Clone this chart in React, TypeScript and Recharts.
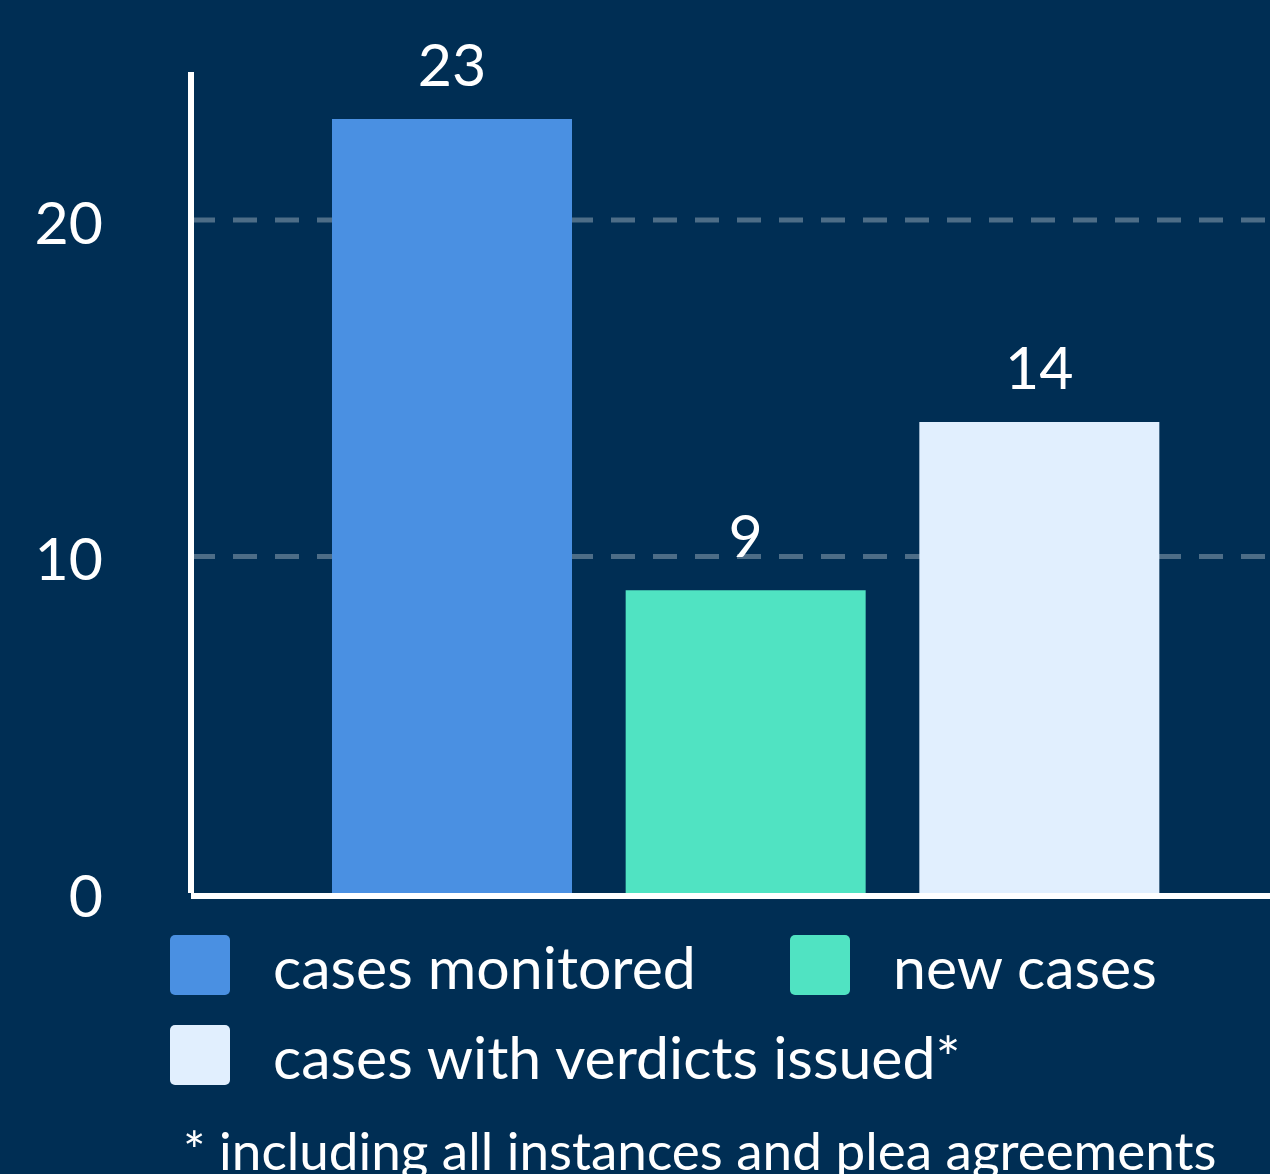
import { Bar, BarChart, CartesianGrid, Cell, LabelList, XAxis, YAxis } from 'recharts';

const categories = ['cases monitored', 'new cases', 'cases with verdicts issued*'];
const values = [23, 9, 14];
const yTicks = [0, 10, 20];
const gridValues = [10, 20];
const footnote = '* including all instances and plea agreements';

const COLORS = ['#4A90E2', '#50E3C2', '#E1EFFE'];
const BG = '#002e54';
const FONT = 'Lato, "Noto Sans", sans-serif';

const data = categories.map((name, i) => ({ name, value: values[i] }));

// legend spots: square left/top, text left
const legendSpots = [
    { left: 170, top: 935, textLeft: 273 },
    { left: 790, top: 935, textLeft: 893 },
    { left: 170, top: 1025, textLeft: 273 },
];

export default function App() {
    return (
        <div
            style={{
                position: 'absolute',
                left: 0,
                top: 0,
                width: 1270,
                height: 1174,
                background: BG,
                overflow: 'hidden',
                fontFamily: FONT,
            }}
        >
            <BarChart width={1270} height={1174} data={data} margin={{ top: 72, right: 0, left: 0, bottom: 0 }}>
                <CartesianGrid
                    vertical={false}
                    horizontalValues={gridValues}
                    stroke='rgba(255,255,255,0.3)'
                    strokeWidth={5}
                    strokeDasharray='24 18'
                />
                <XAxis
                    dataKey='name'
                    tick={false}
                    tickLine={false}
                    height={281}
                    padding={{ left: 114, right: 84 }}
                    axisLine={{ stroke: '#ffffff', strokeWidth: 6, transform: 'translate(0, 3)' }}
                />
                <YAxis
                    width={191}
                    domain={[0, 24.4]}
                    ticks={yTicks}
                    tickLine={false}
                    tickMargin={82}
                    axisLine={{ stroke: '#ffffff', strokeWidth: 6 }}
                    tick={{ fill: '#ffffff', fontSize: 59, fontFamily: FONT, dy: 3 }}
                />
                <Bar dataKey='value' barSize={240} isAnimationActive={false}>
                    {data.map((entry, index) => (
                        <Cell key={`cell-${index}`} fill={COLORS[index % COLORS.length]} />
                    ))}
                    <LabelList
                        dataKey='value'
                        position='top'
                        offset={33}
                        fill='#ffffff'
                        fontSize={59}
                        fontFamily={FONT}
                    />
                </Bar>
            </BarChart>

            {categories.map((label, index) => (
                <div key={`legend-${index}`}>
                    <div
                        style={{
                            position: 'absolute',
                            left: legendSpots[index].left,
                            top: legendSpots[index].top,
                            width: 60,
                            height: 60,
                            borderRadius: 5,
                            background: COLORS[index],
                        }}
                    />
                    <div
                        style={{
                            position: 'absolute',
                            left: legendSpots[index].textLeft,
                            top: legendSpots[index].top + 2,
                            height: 60,
                            lineHeight: '60px',
                            fontSize: 59,
                            color: '#ffffff',
                            whiteSpace: 'nowrap',
                        }}
                    >
                        {label}
                    </div>
                </div>
            ))}

            <div
                style={{
                    position: 'absolute',
                    left: 183,
                    top: 1120,
                    lineHeight: '60px',
                    fontSize: 53,
                    color: '#ffffff',
                    whiteSpace: 'nowrap',
                }}
            >
                {footnote}
            </div>
        </div>
    );
}
